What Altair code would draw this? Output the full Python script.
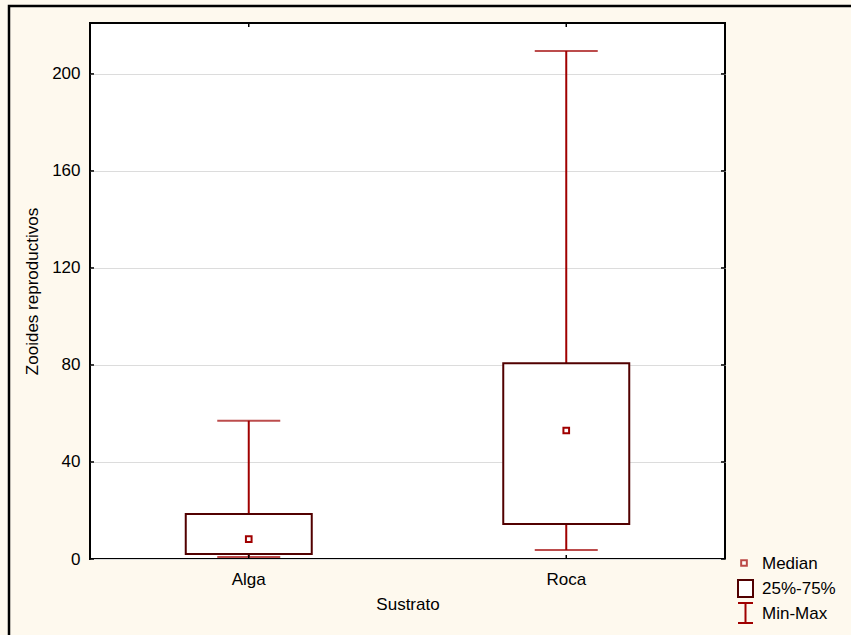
import altair as alt
import pandas as pd

# ---- data ----
sustrato = ["Alga", "Roca"]
minimo = [0.8, 3.7]
q1 = [2.1, 14.4]
mediana = [8.2, 53.0]
q3 = [18.6, 80.7]
maximo = [57.0, 209.5]
y_ticks = [0, 40, 80, 120, 160, 200]
legend_labels = ["Median", "25%-75%", "Min-Max"]

df = pd.DataFrame({"Sustrato": sustrato, "min": minimo, "q1": q1,
                   "median": mediana, "q3": q3, "max": maximo})
yt = pd.DataFrame({"v": y_ticks})
one = pd.DataFrame({"a": [0]})

W, H = 635, 536
RED = "#A00000"
DARK = "#520000"
FONT = "Liberation Sans"
FS = 17

xscale = alt.Scale(domain=sustrato, paddingInner=0, paddingOuter=0)
xaxis = alt.Axis(title="Sustrato", labelAngle=0, ticks=False, domain=False,
                 labelFontSize=FS, titleFontSize=FS, titleFontWeight="normal",
                 labelPadding=12, titlePadding=9, labelColor="black",
                 titleColor="black", grid=False)
yscale = alt.Scale(domain=[0, 221], nice=False, zero=True)
yaxis = alt.Axis(title="Zooides reproductivos", values=y_ticks, ticks=False,
                 domain=False, grid=True, gridColor="#DCDCDC", gridWidth=1,
                 labelFontSize=FS, titleFontSize=FS, titleFontWeight="normal",
                 labelPadding=10, titlePadding=10, labelColor="black",
                 titleColor="black")


def X():
    return alt.X("Sustrato:N", scale=xscale, axis=xaxis)


def Y(f):
    return alt.Y(f, scale=yscale, axis=yaxis)


base = alt.Chart(df)

whisker = base.mark_rule(color=RED, strokeWidth=2).encode(
    x=X(), y=Y("min:Q"), y2="max:Q")
cap_min = base.mark_tick(color=RED, size=63, thickness=2).encode(
    x=X(), y=Y("min:Q"))
cap_max = base.mark_tick(color=RED, size=63, thickness=2).encode(
    x=X(), y=Y("max:Q"))
box = base.mark_bar(size=126, fill="white", stroke=DARK, strokeWidth=2).encode(
    x=X(), y=Y("q1:Q"), y2="q3:Q")
med = base.mark_point(shape="square", size=32, fill="white", stroke=RED,
                      strokeWidth=2, opacity=1, filled=False).encode(
    x=X(), y=Y("median:Q"))

# inward ticks on all four sides
lt = alt.Chart(yt).mark_rule(color="black", strokeWidth=1.5).encode(
    y=Y("v:Q"), x=alt.value(0), x2=alt.value(4))
rt = alt.Chart(yt).mark_rule(color="black", strokeWidth=1.5).encode(
    y=Y("v:Q"), x=alt.value(W - 4), x2=alt.value(W))
bt = base.mark_rule(color="black", strokeWidth=1.5).encode(
    x=X(), y=alt.value(H - 4), y2=alt.value(H))
tt = base.mark_rule(color="black", strokeWidth=1.5).encode(
    x=X(), y=alt.value(0), y2=alt.value(4))

# outer frame
frame = alt.Chart(one).mark_rect(fillOpacity=0, stroke="black", strokeWidth=2.5).encode(
    x=alt.value(-81), x2=alt.value(W + 160), y=alt.value(-17), y2=alt.value(H + 120))

# custom legend
lx = 648
leg_med = alt.Chart(one).mark_point(shape="square", size=32, fill="white",
                                    stroke=RED, strokeWidth=2, filled=False).encode(
    x=alt.value(lx + 6), y=alt.value(H + 4))
leg_box = alt.Chart(one).mark_rect(fill="white", stroke=DARK, strokeWidth=2).encode(
    x=alt.value(lx), x2=alt.value(lx + 15), y=alt.value(H + 21), y2=alt.value(H + 38))
leg_wv = alt.Chart(one).mark_rule(color=RED, strokeWidth=2).encode(
    x=alt.value(lx + 7.5), y=alt.value(H + 44), y2=alt.value(H + 64))
leg_wt = alt.Chart(one).mark_rule(color=RED, strokeWidth=2).encode(
    x=alt.value(lx), x2=alt.value(lx + 15), y=alt.value(H + 44))
leg_wb = alt.Chart(one).mark_rule(color=RED, strokeWidth=2).encode(
    x=alt.value(lx), x2=alt.value(lx + 15), y=alt.value(H + 64))

texts = []
for i, lab in enumerate(legend_labels):
    texts.append(alt.Chart(one).mark_text(align="left", baseline="middle",
                                          fontSize=FS, font=FONT, color="black").encode(
        x=alt.value(lx + 24), y=alt.value(H + 5 + 25 * i), text=alt.value(lab)))

chart = alt.layer(
    whisker, cap_min, cap_max, box, med, lt, rt, bt, tt, frame,
    leg_med, leg_box, leg_wv, leg_wt, leg_wb, *texts
).properties(
    width=W, height=H,
    autosize=alt.AutoSizeParams(type="none"),
    padding={"left": 90, "top": 23, "right": 126, "bottom": 76},
).configure(
    background="#FEF9EE", font=FONT
).configure_view(
    fill="white", stroke="black", strokeWidth=2
)

chart.save("out.html", embed_options={"renderer": "svg", "actions": False})
